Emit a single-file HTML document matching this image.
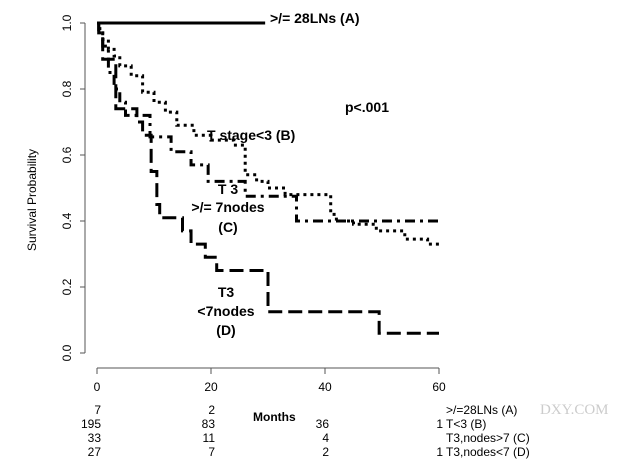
<!DOCTYPE html>
<html><head><meta charset="utf-8"><style>
body{margin:0;background:#fff}
svg{display:block;font-family:"Liberation Sans",sans-serif}
.b{font-weight:bold;font-size:14px}
</style></head><body>
<svg id="chart" width="626" height="461" viewBox="0 0 626 461">
<g id="axes"></g>
<g id="curves"></g>
<text class="b" x="270" y="23">&gt;/= 28LNs (A)</text>
<text class="b" x="345" y="112">p&lt;.001</text>
<text class="b" x="207" y="140">T stage&lt;3 (B)</text>
<text class="b" x="228" y="194" text-anchor="middle">T 3</text>
<text class="b" x="228" y="212" text-anchor="middle">&gt;/= 7nodes</text>
<text class="b" x="228" y="232" text-anchor="middle">(C)</text>
<text class="b" x="226" y="297" text-anchor="middle">T3</text>
<text class="b" x="226" y="316" text-anchor="middle">&lt;7nodes</text>
<text class="b" x="226" y="335" text-anchor="middle">(D)</text>
<text x="36" y="200" font-size="12" text-anchor="middle" transform="rotate(-90 36 200)">Survival Probability</text>
<text x="253" y="421" font-size="12" font-weight="bold">Months</text>
<g id="risk" font-size="12"></g>
<text x="540" y="414" font-size="15" fill="#ccc" font-family="Liberation Serif,serif">DXY.COM</text>
</svg>
<script>
const xTicks=[0,20,40,60];
const yTicks=[0,0.2,0.4,0.6,0.8,1.0];
const tA=[0,29.5];const sA=[1,1];
const tB=[0,0.5,1,2,3,4,6,8,10,12,14,17,20,24,26,28,30,33,40,41,42,45,49,54,58,60];
const sB=[1,0.97,0.95,0.92,0.90,0.87,0.84,0.79,0.76,0.73,0.69,0.66,0.645,0.63,0.54,0.52,0.50,0.48,0.48,0.42,0.40,0.39,0.37,0.345,0.33,0.32];
const tC=[0,0.3,1,2,3,4,5,9.3,13,16.5,19.5,26,35,60];
const sC=[1,0.97,0.93,0.85,0.80,0.76,0.72,0.655,0.61,0.57,0.52,0.475,0.40,0.40];
const tD=[0,0.3,1,3.3,7,8,9.5,10.5,11,15,16.5,19,21,30,49.5,60];
const sD=[1,0.97,0.89,0.74,0.70,0.66,0.55,0.45,0.41,0.37,0.33,0.29,0.25,0.125,0.06,0.06];
const riskRows=[["7","2","",""],["195","83","36","1"],["33","11","4",""],["27","7","2","1"]];
const riskNames=[">/=28LNs (A)","T<3 (B)","T3,nodes>7 (C)","T3,nodes<7 (D)"];
const NS="http://www.w3.org/2000/svg";
const X=t=>97+t*(342/60), Y=s=>353-s*330;
function mk(tag,attrs,parent){const e=document.createElementNS(NS,tag);for(const k in attrs)e.setAttribute(k,attrs[k]);parent.appendChild(e);return e;}
const ax=document.getElementById('axes');
let e=mk('line',{x1:85,y1:Y(0),x2:85,y2:Y(1),stroke:'#555','stroke-width':1},ax);


yTicks.forEach(v=>{
 mk('line',{x1:80,y1:Y(v),x2:85,y2:Y(v),stroke:'#555'},ax);
 const t=mk('text',{x:71,y:Y(v),'font-size':12,'text-anchor':'middle',transform:`rotate(-90 71 ${Y(v)})`},ax);
 
 
 t.textContent=v.toFixed(1);
});
e=mk('line',{x1:X(0),y1:368,x2:X(60),y2:368,stroke:'#555'},ax);


xTicks.forEach(v=>{
 mk('line',{x1:X(v),y1:368,x2:X(v),y2:374,stroke:'#555'},ax);
 const t=mk('text',{x:X(v),y:391,'font-size':12,'text-anchor':'middle'},ax);
 
 
 t.textContent=v;
});
function step(ts,ss){let d=`M${X(ts[0])},${Y(ss[0])}`;for(let i=1;i<ts.length;i++){d+=` H${X(ts[i])} V${Y(ss[i])}`;}return d;}
const cv=document.getElementById('curves');
const series=[[tA,sA,'none','curve-a'],[tB,sB,'3 4','curve-b'],[tC,sC,'10 5 3 5','curve-c'],[tD,sD,'14 6','curve-d']];
series.forEach(s=>{
 const p=mk('path',{d:step(s[0],s[1]),fill:'none',stroke:'#000','stroke-width':3,'stroke-dasharray':s[2]},cv);
 
 
});
const rk=document.getElementById('risk');
const colX=[X(0)+4,X(20)+4,X(40)+4,X(60)+4];
riskRows.forEach((row,r)=>{
 const y=414+r*14;
 row.forEach((v,c)=>{if(!v)return;
  const t=mk('text',{x:colX[c],y:y,'text-anchor':'end'},rk);
  
  
  t.textContent=v;});
 const n=mk('text',{x:446,y:y},rk);
 
 
 n.textContent=riskNames[r];
});
</script>
</body></html>
